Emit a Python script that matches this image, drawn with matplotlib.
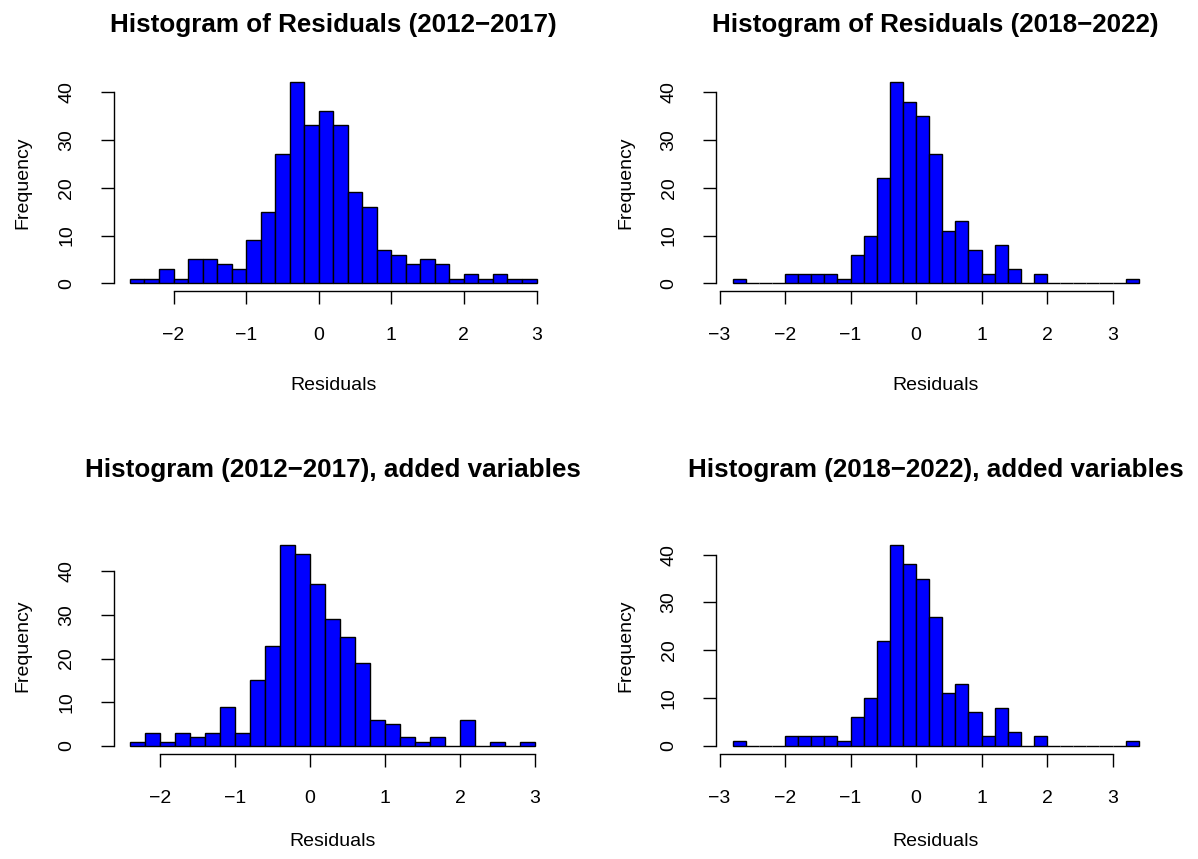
import numpy as np
import matplotlib.pyplot as plt

plt.rcParams['font.family'] = ['Liberation Sans', 'DejaVu Sans']

# histogram bin edges (width 0.2) and counts
breaks_a = np.round(np.arange(-2.6, 3.0001, 0.2), 1)
counts_a = [1, 1, 3, 1, 5, 5, 4, 3, 9, 15, 27, 42, 33, 36, 33, 19, 16, 7, 6, 4,
            5, 4, 1, 2, 1, 2, 1, 1]

breaks_b = np.round(np.arange(-2.8, 3.4001, 0.2), 1)
counts_b = [1, 0, 0, 0, 2, 2, 2, 2, 1, 6, 10, 22, 42, 38, 35, 27, 11, 13, 7, 2,
            8, 3, 0, 2, 0, 0, 0, 0, 0, 0, 1]

breaks_c = np.round(np.arange(-2.4, 3.0001, 0.2), 1)
counts_c = [1, 3, 1, 3, 2, 3, 9, 3, 15, 23, 46, 44, 37, 29, 25, 19, 6, 5, 2, 1,
            2, 0, 6, 0, 1, 0, 1]

breaks_d = np.round(np.arange(-2.8, 3.4001, 0.2), 1)
counts_d = [1, 0, 0, 0, 2, 2, 2, 2, 1, 6, 10, 22, 42, 38, 35, 27, 11, 13, 7, 2,
            8, 3, 0, 2, 0, 0, 0, 0, 0, 0, 1]

titles = ["Histogram of Residuals (2012\u22122017)",
          "Histogram of Residuals (2018\u22122022)",
          "Histogram (2012\u22122017), added variables",
          "Histogram (2018\u22122022), added variables"]
xticks_list = [[-2, -1, 0, 1, 2, 3], [-3, -2, -1, 0, 1, 2, 3],
               [-2, -1, 0, 1, 2, 3], [-3, -2, -1, 0, 1, 2, 3]]
yticks = [0, 10, 20, 30, 40]

W, H = 1198, 859
fig = plt.figure(figsize=(W / 100, H / 100), dpi=100)

# plot regions in pixels: left, top, right, bottom
boxes = [(113.7, 74.4, 552.8, 291.4), (716.4, 74.4, 1155.0, 291.4),
         (113.8, 537.0, 551.2, 754.0), (716.4, 537.0, 1155.0, 754.0)]
title_y = [32, 477]
xlab_off = [94, 88]

data = [(breaks_a, counts_a), (breaks_b, counts_b),
        (breaks_c, counts_c), (breaks_d, counts_d)]

PX = 0.72  # points per pixel at 100 dpi

for i, ((brk, cnt), box) in enumerate(zip(data, boxes)):
    l, t, r, b = box
    ax = fig.add_axes([l / W, (H - b) / H, (r - l) / W, (b - t) / H])
    ax.bar(brk[:-1], cnt, width=np.diff(brk), align='edge', color='#0000ff',
           edgecolor='black', linewidth=1.0)

    # R style 4% padding
    xr = brk[-1] - brk[0]
    ax.set_xlim(brk[0] - 0.04 * xr, brk[-1] + 0.04 * xr)
    ym = max(cnt)
    ax.set_ylim(-0.04 * ym, ym * 1.04)

    ax.spines['top'].set_visible(False)
    ax.spines['right'].set_visible(False)
    xt = xticks_list[i]
    ax.spines['bottom'].set_bounds(xt[0], xt[-1])
    ax.spines['left'].set_bounds(0, 40)
    for s in ('bottom', 'left'):
        ax.spines[s].set_linewidth(1.0)

    ax.set_xticks(xt)
    ax.set_yticks(yticks)
    ax.tick_params(axis='x', length=13 * PX, width=1.0, pad=16.5, labelsize=14)
    ax.tick_params(axis='y', length=13 * PX, width=1.0, pad=18.5, labelsize=14,
                   labelrotation=90)
    for lab in ax.get_yticklabels():
        lab.set_va('center')

    ax.annotate('Residuals', xy=(0.5, 0), xycoords='axes fraction',
                xytext=(0, -xlab_off[i // 2] * PX), textcoords='offset points',
                ha='center', va='center', fontsize=14)
    ax.annotate('Frequency', xy=(0, 0.5), xycoords='axes fraction',
                xytext=(-91 * PX, 0), textcoords='offset points',
                ha='center', va='center', rotation=90, fontsize=14)

    cx = (l + r) / 2 / W
    fig.text(cx, 1 - title_y[i // 2] / H, titles[i], ha='center',
             va='baseline', fontsize=18.7, fontweight='bold')

fig.savefig('out.png', dpi=100)
